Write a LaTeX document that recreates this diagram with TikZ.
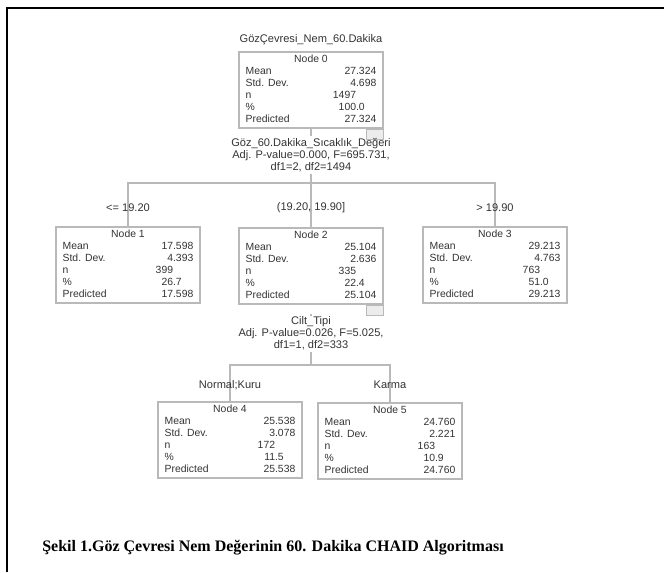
\documentclass[tikz,border=0pt]{standalone}
\usepackage{fontspec}
\setmainfont{Liberation Serif}
\newfontfamily\treefont{Liberation Sans}
\usepackage{tikz}
\usetikzlibrary{positioning}

\newcommand{\nodetab}[1]{\begin{tabular*}{98pt}{@{}l@{\extracolsep{\fill}}r@{\extracolsep{0pt}}l@{}}#1\end{tabular*}}

\tikzset{
  treebox/.style={draw=gray!55,line width=1.8pt,minimum width=108pt,minimum height=57pt,
    inner xsep=4pt,inner ysep=1pt,font=\treefont\fontsize{7.8}{9.1}\selectfont,text=black!80},
  treetext/.style={font=\treefont\fontsize{8.3}{9.2}\selectfont,text=black!80,align=center,inner sep=1pt},
  treeline/.style={draw=gray!55,line width=1.8pt},
  iconbox/.style={draw=gray!55,line width=0.8pt,fill=gray!15,minimum width=13pt,minimum height=7pt,inner sep=0pt},
}

\begin{document}
\begin{tikzpicture}[x=0.75pt,y=-0.75pt]
                \useasboundingbox (0,0) rectangle (664,572);
                \draw [line width=1.5pt] (7,572) -- (7,8) -- (664,8);
                % root
                \node [treetext] (title) at (311,40) {GözÇevresi\_Nem\_60.Dakika};
                \node [treebox] (n0) at (311,90) {\nodetab{\multicolumn{3}{c}{Node 0}\\
                    Mean&27&.324\\ Std. Dev.&4&.698\\ n&1497&\\ \%&100&.0\\ Predicted&27&.324}};
                \node [iconbox,anchor=north east] (i0) at (n0.south east) {};
                \node [treetext] (s0) at (311,155) {Göz\_60.Dakika\_Sıcaklık\_Değeri\\
                    Adj. P-value=0.000, F=695.731,\\ df1=2, df2=1494};
                \coordinate (b0) at (311,183);
                % first level
                \node [treebox] (n1) at (128,265) {\nodetab{\multicolumn{3}{c}{Node 1}\\
                    Mean&17&.598\\ Std. Dev.&4&.393\\ n&399&\\ \%&26&.7\\ Predicted&17&.598}};
                \node [treebox] (n2) at (311,266) {\nodetab{\multicolumn{3}{c}{Node 2}\\
                    Mean&25&.104\\ Std. Dev.&2&.636\\ n&335&\\ \%&22&.4\\ Predicted&25&.104}};
                \node [treebox] (n3) at (495,265) {\nodetab{\multicolumn{3}{c}{Node 3}\\
                    Mean&29&.213\\ Std. Dev.&4&.763\\ n&763&\\ \%&51&.0\\ Predicted&29&.213}};
                \node [iconbox,anchor=north east] (i2) at (n2.south east) {};
                \draw [treeline] (n0.south) -- (s0.north);
                \draw [treeline] (s0.south) -- (b0);
                \draw [treeline] (n1.north) |- (b0) -| (n3.north);
                \draw [treeline] (b0) -- (n2.north);
                \node [treetext] (l1) at (128,208) {<= 19.20};
                \node [treetext] (l2) at (311,208) {(19.20, 19.90]};
                \node [treetext] (l3) at (495,208) {> 19.90};
                % second level
                \node [treetext] (s2) at (311,333) {Cilt\_Tipi\\
                    Adj. P-value=0.026, F=5.025,\\ df1=1, df2=333};
                \coordinate (b2) at (311,365);
                \node [treebox] (n4) at (230,440) {\nodetab{\multicolumn{3}{c}{Node 4}\\
                    Mean&25&.538\\ Std. Dev.&3&.078\\ n&172&\\ \%&11&.5\\ Predicted&25&.538}};
                \node [treebox] (n5) at (390,441) {\nodetab{\multicolumn{3}{c}{Node 5}\\
                    Mean&24&.760\\ Std. Dev.&2&.221\\ n&163&\\ \%&10&.9\\ Predicted&24&.760}};
                \draw [treeline] (i2.south -| n2.south) -- (s2.north);
                \draw [treeline] (s2.south) -- (b2);
                \draw [treeline] (n4.north) |- (b2) -| (n5.north);
                \node [treetext] (l4) at (230,385) {Normal;Kuru};
                \node [treetext] (l5) at (390,385) {Karma};
                % caption
                \node [anchor=west,font=\fontsize{12}{14}\selectfont\bfseries,inner sep=0pt] (cap) at (42,548)
                    {Şekil 1.Göz Çevresi Nem Değerinin 60. Dakika CHAID Algoritması};
            \end{tikzpicture}
\end{document}
